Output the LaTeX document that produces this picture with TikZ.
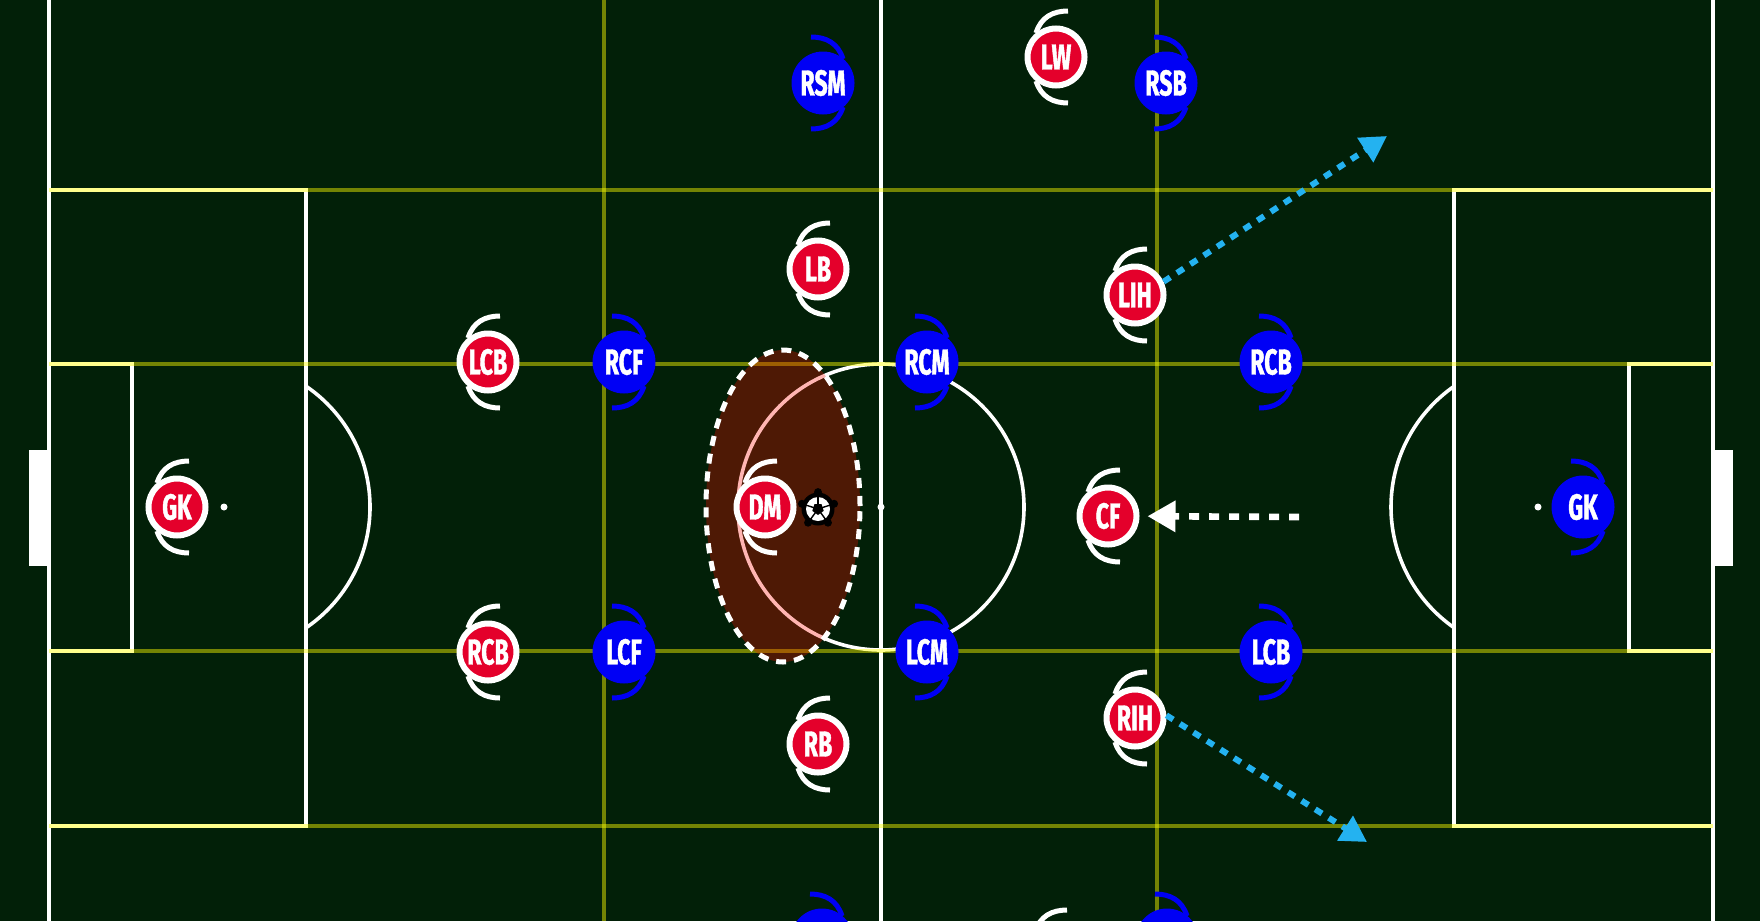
\documentclass[tikz,border=0pt]{standalone}
\usepackage{fontspec}
\usepackage{xcolor}
\usepackage{tikz}
\usetikzlibrary{arrows.meta, positioning, shapes.geometric}

\newfontfamily\playerfont[FakeStretch=0.64, FakeBold=1.2]{Fira Sans}
\definecolor{pitchgreen}{RGB}{2,32,8}
\definecolor{redteam}{RGB}{228,0,43}
\definecolor{blueteam}{RGB}{0,0,245}
\definecolor{runblue}{RGB}{36,178,240}
\definecolor{gridyellow}{RGB}{255,255,0}
\definecolor{pressred}{RGB}{255,10,0}

\begin{document}
\begin{tikzpicture}[
        x=0.5pt, y=-0.5pt,
        pitchline/.style={draw=white, line width=1.8pt},
        gridline/.style={draw=gridyellow, draw opacity=0.45, line width=2pt},
        redplayer/.style={circle, fill=redteam, draw=white, line width=3pt, minimum size=28.5pt, inner sep=0pt, text=white, font=\playerfont\bfseries\fontsize{18pt}{18pt}\selectfont},
        blueplayer/.style={circle, fill=blueteam, minimum size=31.5pt, inner sep=0pt, text=white, font=\playerfont\bfseries\fontsize{18pt}{18pt}\selectfont},
        redarc/.style={draw=white, line width=2.5pt},
        bluearc/.style={draw=blueteam, line width=2.5pt},
        pressing/.style={ellipse, fill=pressred, fill opacity=0.3, draw=white, draw opacity=1, line width=2.5pt, dash pattern=on 5pt off 4pt, minimum width=77pt, minimum height=156pt, inner sep=0pt},
        run/.style={draw=runblue, line width=3pt, dash pattern=on 4pt off 4pt, -{Triangle[length=13pt, width=14pt]}},
        press/.style={draw=white, line width=3.3pt, dash pattern=on 5pt off 5pt, -{Triangle[length=14pt, width=15pt]}, shorten >=4pt},
        ball/.style={circle, fill=black, minimum size=16.5pt, inner sep=0pt}
        ]
        \useasboundingbox (0,0) rectangle (1760,921);
        \clip (0,0) rectangle (1760,921);
        \fill[pitchgreen] (0,0) rectangle (1760,921);

        % Pitch markings
        \draw[pitchline] (49,0) -- (49,921);
        \draw[pitchline] (1713,0) -- (1713,921);
        \draw[pitchline] (881,0) -- (881,921);
        \draw[pitchline] (49,190) rectangle (306,826);
        \draw[pitchline] (1454,190) rectangle (1713,826);
        \draw[pitchline] (49,364) rectangle (132,651);
        \draw[pitchline] (1629,364) rectangle (1713,651);
        \draw[pitchline] (881,507) circle[radius=143];
        \begin{scope}
            \clip (306,0) rectangle (600,921);
            \draw[pitchline] (224,507) circle[radius=146];
        \end{scope}
        \begin{scope}
            \clip (1160,0) rectangle (1454,921);
            \draw[pitchline] (1538,507) circle[radius=147];
        \end{scope}
        \fill[white] (224,507) circle[radius=3.5];
        \fill[white] (1538,507) circle[radius=3.5];
        \fill[white] (881,507) circle[radius=3.5];
        \fill[white] (29,450) rectangle (49,566);
        \fill[white] (1713,450) rectangle (1733,566);

        % Zones
        \foreach \gy in {190,364,651,826}
            \draw[gridline] (49,\gy) -- (1713,\gy);
        \foreach \gx in {604,1157}
            \draw[gridline] (\gx,0) -- (\gx,921);

        \node[pressing] (presszone) at (783,506) {};

        % Red team
        \foreach \name/\px/\py/\lbl in {gk/177/507/GK, lcb/488/362/LCB, rcb/488/652/RCB, lb/818/269/LB, rb/818/744/RB, dm/765/507/DM, lw/1056/57/LW, lih/1135/295/LIH, rih/1135/718/RIH, cf/1108/516/CF}{
            \node[redplayer] (\name) at (\px,\py) {\lbl};
            \draw[redarc, shift={(\px,\py)}] (12,-46) .. controls (-3,-46) and (-15,-40) .. (-20,-24)
                (12,46) .. controls (-3,46) and (-15,40) .. (-20,24);
        }
        \node[redplayer] (rw) at (1055,956) {};
        \draw[redarc, shift={(1055,956)}] (12,-46) .. controls (-3,-46) and (-15,-40) .. (-20,-24);

        % Blue team
        \foreach \name/\px/\py/\lbl in {rsm/823/83/RSM, rsb/1166/83/RSB, rcf/624/362/RCF, lcf/624/652/LCF, rcm/927/362/RCM, lcm/927/652/LCM, brcb/1271/362/RCB, blcb/1271/652/LCB, bgk/1583/507/GK, lsm/822/940/LSM, lsb/1167/940/LSB}{
            \node[blueplayer] (\name) at (\px,\py) {\lbl};
            \draw[bluearc, shift={(\px,\py)}] (-12,-46) .. controls (3,-46) and (15,-40) .. (20,-24)
                (-12,46) .. controls (3,46) and (15,40) .. (20,24);
        }

        % Ball
        \node[ball] (matchball) at (818,509) {};
        \fill[white] (matchball) circle[radius=12];
        \node[regular polygon, regular polygon sides=5, shape border rotate=180, fill=black, minimum size=6pt, inner sep=0pt] (panel) at (matchball) {};
        \foreach \a in {90,162,234,306,18}{
            \fill[black] (matchball.\a) circle[radius=4];
            \draw[black, line width=0.7pt] (panel.center) -- (matchball.\a);
        }

        % Runs
        \coordinate (cfrun) at (1299,517);
        \coordinate (lihrun) at (1387,136);
        \coordinate (rihrun) at (1367,842);
        \draw[press] (cfrun) -- (cf);
        \draw[run] (lih.25) -- (lihrun);
        \draw[run] (rih.5) -- (rihrun);
\end{tikzpicture}
\end{document}
